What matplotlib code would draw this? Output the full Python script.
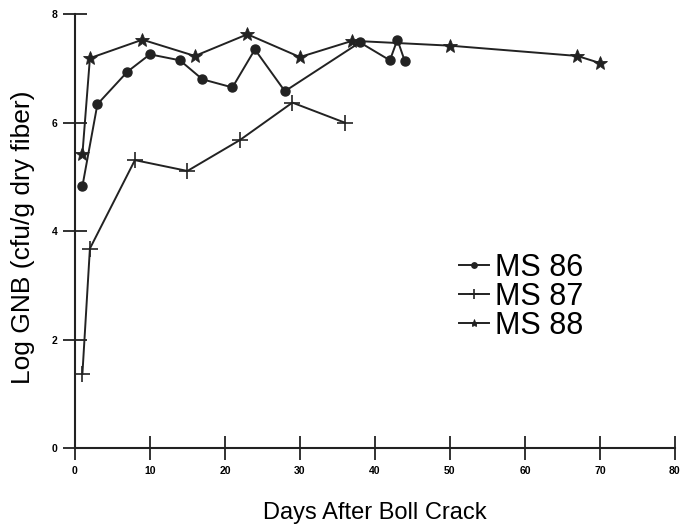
import matplotlib.pyplot as plt

plt.rcParams['font.family'] = ['Liberation Sans', 'DejaVu Sans']

# Days after boll crack / log GNB values
days_86 = [1, 3, 7, 10, 14, 17, 21, 24, 28, 38, 42, 43, 44]
gnb_86 = [4.83, 6.34, 6.94, 7.26, 7.15, 6.80, 6.65, 7.35, 6.58, 7.48, 7.15, 7.53, 7.13]

days_87 = [1, 2, 8, 15, 22, 29, 36]
gnb_87 = [1.37, 3.68, 5.31, 5.11, 5.68, 6.37, 6.00]

days_88 = [1, 2, 9, 16, 23, 30, 37, 50, 67, 70]
gnb_88 = [5.42, 7.19, 7.53, 7.23, 7.63, 7.21, 7.51, 7.42, 7.23, 7.10]

x_ticks = [0, 10, 20, 30, 40, 50, 60, 70, 80]
y_ticks = [0, 2, 4, 6, 8]

fig = plt.figure(figsize=(6.81, 5.26), dpi=100)
ax = fig.add_axes([0.110, 0.148, 0.881, 0.825])

c = '#222222'
ax.plot(days_86, gnb_86, color=c, lw=1.4, marker='o', ms=6.5, label='MS 86')
ax.plot(days_87, gnb_87, color=c, lw=1.4, marker='+', ms=12, mew=1.2, label='MS 87')
ax.plot(days_88, gnb_88, color=c, lw=1.4, marker='*', ms=10, mew=0.6,
        label='MS 88')

ax.set_xlim(0, 80)
ax.set_ylim(0, 8)
ax.set_xticks(x_ticks)
ax.set_yticks(y_ticks)
for s in ['top', 'right']:
    ax.spines[s].set_visible(False)
for s in ['left', 'bottom']:
    ax.spines[s].set_linewidth(1.5)
    ax.spines[s].set_color(c)

ax.tick_params(direction='inout', length=17, width=1.3, color=c,
               labelsize=7.5, pad=4)
for lab in ax.get_xticklabels() + ax.get_yticklabels():
    lab.set_fontweight('bold')

ax.set_xlabel('Days After Boll Crack', fontsize=17, labelpad=19)
ax.set_ylabel('Log GNB (cfu/g dry fiber)', fontsize=19)
ax.yaxis.set_label_coords(-0.066, 0.485)

leg = ax.legend(loc='upper left', bbox_to_anchor=(0.62, 0.478), frameon=False,
                fontsize=22, handlelength=0.97, handletextpad=0.2,
                labelspacing=-0.03, markerscale=0.6, borderaxespad=0)

fig.savefig('out.png', dpi=100, facecolor='white')
